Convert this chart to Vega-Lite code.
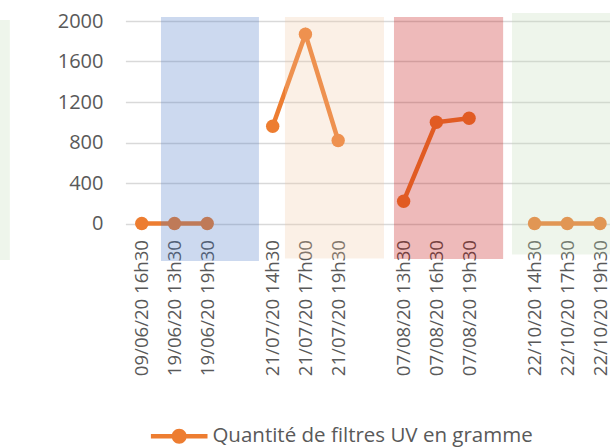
{
  "$schema": "https://vega.github.io/schema/vega-lite/v6.json",
  "width": 484.6,
  "height": 202.5,
  "autosize": {"type": "none"},
  "padding": {"left": 125.4, "top": 21, "right": 0, "bottom": 223.5},
  "background": "white",
  "config": {
    "view": {"stroke": null},
    "font": "Open Sans",
    "axisY": {"labelOverlap": false, "labelSeparation": -8, "tickCount": 10}
  },
  "datasets": {
    "series": [
      {"t": "09/06/20 16h30", "i": 0, "v": 0, "seg": "1"},
      {"t": "19/06/20 13h30", "i": 1, "v": 0, "seg": "1"},
      {"t": "19/06/20 19h30", "i": 2, "v": 0, "seg": "1"},
      {"t": "21/07/20 14h30", "i": 4, "v": 960, "seg": "2"},
      {"t": "21/07/20 17h00", "i": 5, "v": 1870, "seg": "2"},
      {"t": "21/07/20 19h30", "i": 6, "v": 820, "seg": "2"},
      {"t": "07/08/20 13h30", "i": 8, "v": 220, "seg": "3"},
      {"t": "07/08/20 16h30", "i": 9, "v": 1000, "seg": "3"},
      {"t": "07/08/20 19h30", "i": 10, "v": 1040, "seg": "3"},
      {"t": "22/10/20 14h30", "i": 12, "v": 0, "seg": "4"},
      {"t": "22/10/20 17h30", "i": 13, "v": 0, "seg": "4"},
      {"t": "22/10/20 19h30", "i": 14, "v": 0, "seg": "4"}
    ],
    "zones": [
      {"zone": "b", "x0": 0.587, "x1": 3.58, "y0": -370, "y1": 2040},
      {"zone": "o", "x0": 4.375, "x1": 7.4, "y0": -346, "y1": 2040},
      {"zone": "r", "x0": 7.705, "x1": 11.04, "y0": -350, "y1": 2040},
      {"zone": "g", "x0": 11.31, "x1": 14.6, "y0": -306, "y1": 2079},
      {"zone": "g", "x0": -4.4, "x1": -4.03, "y0": -360, "y1": 2010}
    ]
  },
  "layer": [
    {
      "data": {"name": "series"},
      "mark": {"type": "line", "color": "#ED7D31", "strokeWidth": 4.5},
      "encoding": {
        "x": {
          "field": "i", "type": "quantitative",
          "scale": {"domain": [-0.5, 14.305], "nice": false, "zero": false},
          "axis": {
            "title": null,
            "values": [0, 1, 2, 4, 5, 6, 8, 9, 10, 12, 13, 14],
            "labelExpr": "['09/06/20 16h30','19/06/20 13h30','19/06/20 19h30','','21/07/20 14h30','21/07/20 17h00','21/07/20 19h30','','07/08/20 13h30','07/08/20 16h30','07/08/20 19h30','','22/10/20 14h30','22/10/20 17h30','22/10/20 19h30'][datum.value]",
            "labelAngle": -90,
            "labelFont": "Open Sans",
            "labelFontSize": 18.6,
            "labelColor": "#595959",
            "labelPadding": 16,
            "ticks": false,
            "domain": false,
            "grid": false,
            "labelOverlap": false,
            "labelFlush": false,
            "labelBound": false
          }
        },
        "y": {
          "field": "v", "type": "quantitative",
          "scale": {"domain": [0, 2000], "nice": false},
          "axis": {
            "title": null,
            "values": [0, 200, 400, 600, 800, 1000, 1200, 1400, 1600, 1800, 2000],
            "tickCount": 10,
            "format": "d",
            "labelOverlap": false,
            "labelSeparation": -8,
            "labelFont": "Open Sans",
            "labelFontSize": 20,
            "labelColor": "#595959",
            "labelPadding": 22.4,
            "ticks": false,
            "domain": false,
            "gridColor": "#d9d9d9",
            "gridWidth": 1.3
          }
        },
        "detail": {"field": "seg", "type": "nominal"}
      }
    },
    {
      "data": {"name": "series"},
      "mark": {"type": "point", "filled": true, "size": 180, "opacity": 1, "strokeWidth": 0},
      "encoding": {
        "x": {"field": "i", "type": "quantitative"},
        "y": {"field": "v", "type": "quantitative", "axis": {"values": [0, 200, 400, 600, 800, 1000, 1200, 1400, 1600, 1800, 2000], "tickCount": 10, "labelOverlap": false, "labelSeparation": -8}},
        "color": {
          "datum": "Quantité de filtres UV en gramme",
          "type": "nominal",
          "scale": {"range": ["#ED7D31"]},
          "legend": {
            "title": null,
            "orient": "none",
            "legendX": 25.3,
            "legendY": 386.7,
            "padding": 0,
            "symbolType": "M-1,-0.08H1V0.08H-1Z M-0.265,0A0.265,0.265 0 1,1 0.265,0A0.265,0.265 0 1,1 -0.265,0Z",
            "symbolSize": 3204,
            "symbolStrokeWidth": 0,
            "symbolOpacity": 1,
            "labelFont": "Open Sans",
            "labelFontSize": 20.5,
            "labelColor": "#595959",
            "labelOffset": 4.7,
            "labelLimit": 0
          }
        }
      }
    },
    {
      "data": {"name": "zones"},
      "mark": {"type": "rect", "clip": false, "opacity": 0.27},
      "encoding": {
        "x": {"field": "x0", "type": "quantitative"},
        "x2": {"field": "x1"},
        "y": {"field": "y0", "type": "quantitative", "axis": {"values": [0, 200, 400, 600, 800, 1000, 1200, 1400, 1600, 1800, 2000], "tickCount": 10, "labelOverlap": false, "labelSeparation": -8}},
        "y2": {"field": "y1"},
        "fill": {
          "field": "zone", "type": "nominal",
          "scale": {"domain": ["b", "o", "r", "g"], "range": ["#4472C4", "#F0C8A3", "#C00000", "#C2DBB4"]},
          "legend": null
        }
      }
    }
  ]
}
